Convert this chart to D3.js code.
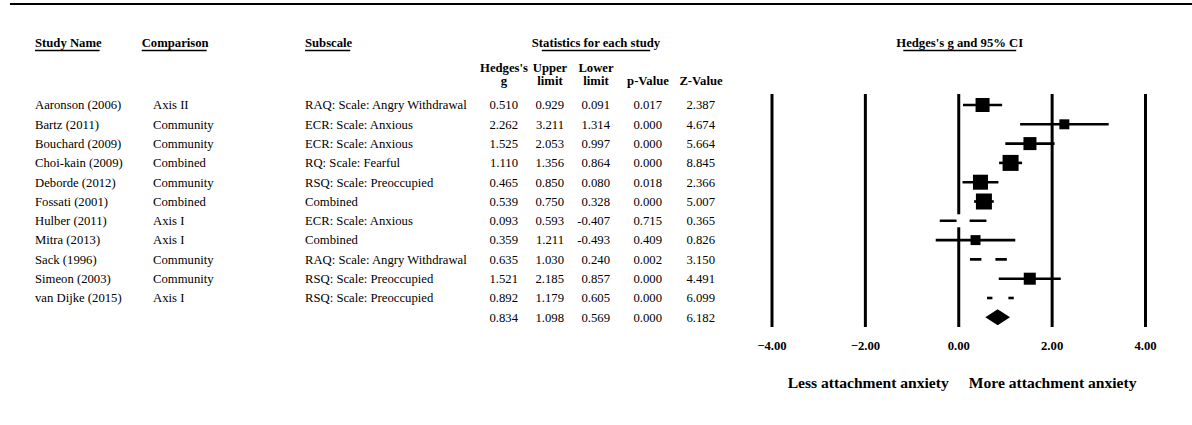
<!DOCTYPE html>
<html>
<head>
<meta charset="utf-8">
<script src="https://cdn.jsdelivr.net/npm/d3@7"></script>
<style>
    body { margin: 0; background: #fff; }
    svg { display: block; font-family: "Liberation Serif", "Times New Roman", serif; }
</style>
</head>
<body>
<svg id="chart" width="1192" height="425"></svg>
<script>
// 数据
const studies = ["Aaronson (2006)", "Bartz (2011)", "Bouchard (2009)", "Choi-kain (2009)", "Deborde (2012)",
    "Fossati (2001)", "Hulber (2011)", "Mitra (2013)", "Sack (1996)", "Simeon (2003)", "van Dijke (2015)"];
const comparisons = ["Axis II", "Community", "Community", "Combined", "Community",
    "Combined", "Axis I", "Axis I", "Community", "Community", "Axis I"];
const subscales = ["RAQ: Scale: Angry Withdrawal", "ECR: Scale: Anxious", "ECR: Scale: Anxious", "RQ: Scale: Fearful",
    "RSQ: Scale: Preoccupied", "Combined", "ECR: Scale: Anxious", "Combined", "RAQ: Scale: Angry Withdrawal",
    "RSQ: Scale: Preoccupied", "RSQ: Scale: Preoccupied"];
const hedgesG = [0.510, 2.262, 1.525, 1.110, 0.465, 0.539, 0.093, 0.359, 0.635, 1.521, 0.892];
const upperLimit = [0.929, 3.211, 2.053, 1.356, 0.850, 0.750, 0.593, 1.211, 1.030, 2.185, 1.179];
const lowerLimit = [0.091, 1.314, 0.997, 0.864, 0.080, 0.328, -0.407, -0.493, 0.240, 0.857, 0.605];
const pValues = [0.017, 0.000, 0.000, 0.000, 0.018, 0.000, 0.715, 0.409, 0.002, 0.000, 0.000];
const zValues = [2.387, 4.674, 5.664, 8.845, 2.366, 5.007, 0.365, 0.826, 3.150, 4.491, 6.099];
const weights = [9.5, 4.8, 8.2, 12.4, 10.9, 12.4, 8.2, 4.8, 9.5, 7.0, 12.4];
// 合并效应: g, upper, lower, p, z
const summaryStats = [0.834, 1.098, 0.569, 0.000, 6.182];
const axisTicks = [-4, -2, 0, 2, 4];
const statHeaders = [["Hedges's", "g"], ["Upper", "limit"], ["Lower", "limit"], ["", "p-Value"], ["", "Z-Value"]];
// 这几项的方块在原图中是白色的
const whiteMarkers = ["Hulber (2011)", "Sack (1996)", "van Dijke (2015)"];

const FS = 12.7;
const svg = d3.select("#chart");

// 比例尺
const x = d3.scaleLinear().domain([-4, 4]).range([772, 1145.5]);
const rowKeys = d3.range(studies.length + 1);
const y = d3.scalePoint().domain(rowKeys).range([105, 317.3]);
const boxSize = d3.scaleSqrt().domain([0, d3.max(weights)]).range([0, 16]);

// 数值列右边缘
const colRight = [518, 564, 610, 662, 715];

// 顶部横线
svg.append("line").attr("x1", 10).attr("x2", 1192).attr("y1", 4).attr("y2", 4)
    .attr("stroke", "#000").attr("stroke-width", 2);

// 标题 (带下划线)
function header(txt, xPos, yPos, anchor, inset) {
    const t = svg.append("text").attr("x", xPos).attr("y", yPos)
        .attr("text-anchor", anchor).attr("font-weight", "bold").attr("font-size", FS).text(txt);
    const w = t.node().getComputedTextLength();
    const x0 = anchor === "middle" ? xPos - w / 2 : xPos;
    svg.append("line").attr("x1", x0 + inset).attr("x2", x0 + w - inset - (anchor === "middle" ? 0 : 2))
        .attr("y1", yPos + 3.5).attr("y2", yPos + 3.5).attr("stroke", "#000").attr("stroke-width", 1.3);
}
header("Study Name", 35, 47, "start", 0);
header("Comparison", 141.7, 47, "start", 0);
header("Subscale", 305, 47, "start", 0);
header("Statistics for each study", 596, 47, "middle", 10);
header("Hedges's g and 95% CI", x(0) + 1, 47, "middle", 7);

// 数值列标题
statHeaders.forEach((h, i) => {
    h.forEach((line, k) => {
        svg.append("text").attr("x", colRight[i] - 14).attr("y", 71.5 + k * 13.5)
            .attr("text-anchor", "middle").attr("font-weight", "bold").attr("font-size", FS).text(line);
    });
});

// 表格文字
const rows = svg.append("g").attr("font-size", FS);
const textCols = [[studies, 35], [comparisons, 153], [subscales, 305]];
textCols.forEach(([arr, xPos]) => {
    rows.selectAll(null).data(arr).enter().append("text")
        .attr("x", xPos).attr("y", (d, i) => y(i) + 4.3).text(d => d);
});
const numCols = [hedgesG, upperLimit, lowerLimit, pValues, zValues];
numCols.forEach((arr, c) => {
    rows.selectAll(null).data(arr.concat([summaryStats[c]])).enter().append("text")
        .attr("x", colRight[c]).attr("y", (d, i) => y(i) + 4.3)
        .attr("text-anchor", "end").text(d => d.toFixed(3));
});

// 竖线
const plot = svg.append("g");
plot.selectAll(".grid").data(axisTicks).enter().append("line")
    .attr("x1", d => x(d)).attr("x2", d => x(d)).attr("y1", 94).attr("y2", 327)
    .attr("stroke", "#000").attr("stroke-width", 3);

// 置信区间
plot.selectAll(".ci").data(hedgesG).enter().append("line")
    .attr("x1", (d, i) => x(lowerLimit[i])).attr("x2", (d, i) => x(upperLimit[i]))
    .attr("y1", (d, i) => y(i)).attr("y2", (d, i) => y(i))
    .attr("stroke", "#000").attr("stroke-width", 2.6);

// 方块
plot.selectAll(".box").data(hedgesG).enter().append("rect")
    .attr("x", (d, i) => x(d) - boxSize(weights[i]) / 2)
    .attr("y", (d, i) => y(i) - boxSize(weights[i]) / 2)
    .attr("width", (d, i) => boxSize(weights[i]))
    .attr("height", (d, i) => boxSize(weights[i]))
    .attr("fill", (d, i) => whiteMarkers.includes(studies[i]) ? "#fff" : "#000");

// 合并效应菱形
const sy = y(studies.length);
plot.append("path")
    .attr("d", `M${x(summaryStats[2])},${sy} L${x(summaryStats[0])},${sy - 8} L${x(summaryStats[1])},${sy} L${x(summaryStats[0])},${sy + 8} Z`)
    .attr("fill", "#000");

// 刻度文字
plot.selectAll(".tick").data(axisTicks).enter().append("text")
    .attr("x", d => x(d)).attr("y", 349.5)
    .attr("text-anchor", "middle").attr("font-weight", "bold").attr("font-size", FS)
    .text(d => d3.format(".2f")(d));

// 方向说明
svg.append("text").attr("x", x(0) - 10).attr("y", 388).attr("text-anchor", "end")
    .attr("font-weight", "bold").attr("font-size", 15.6).text("Less attachment anxiety");
svg.append("text").attr("x", x(0) + 10).attr("y", 388).attr("text-anchor", "start")
    .attr("font-weight", "bold").attr("font-size", 15.6).text("More attachment anxiety");
</script>
</body>
</html>
